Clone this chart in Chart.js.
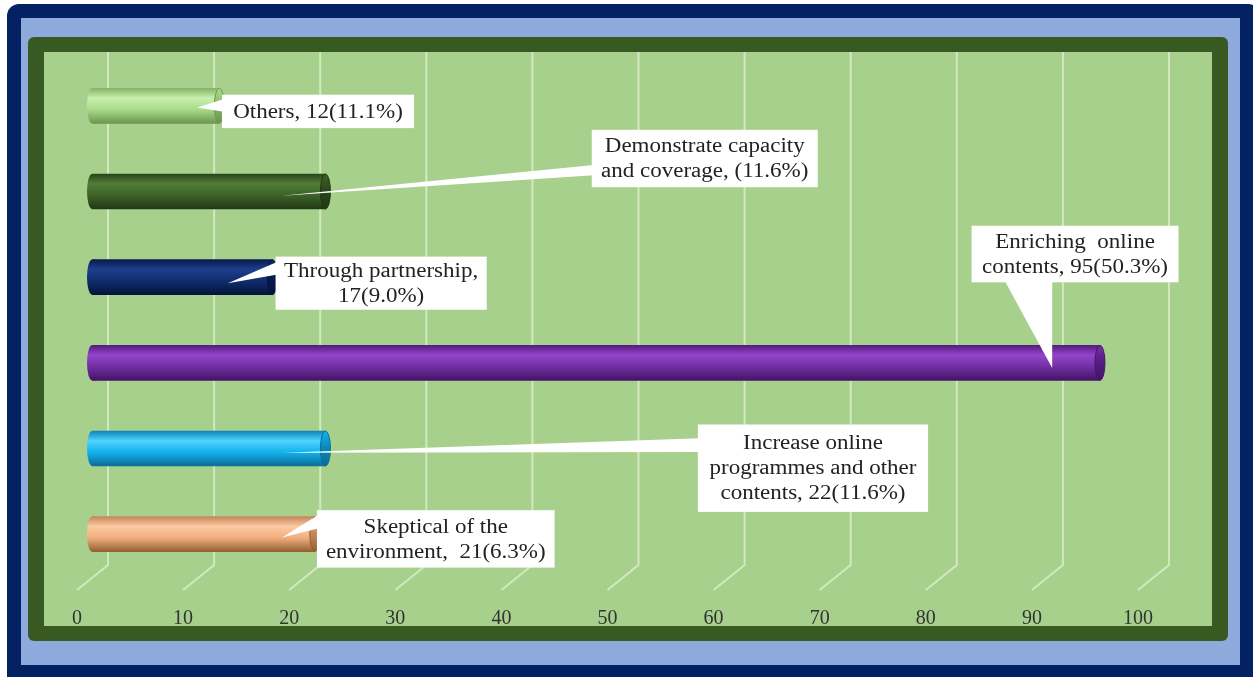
<!DOCTYPE html>
<html>
<head>
<meta charset="utf-8">
<script src="https://cdn.jsdelivr.net/npm/chart.js@4.4.0/dist/chart.umd.min.js"></script>
<style>
  html, body { margin: 0; padding: 0; background: #ffffff; }
  canvas { display: block; }
</style>
</head>
<body>
<canvas id="myChart" width="1253" height="677"></canvas>
<script>
// data, top bar first
const categories = ['Others', 'Demonstrate capacity and coverage', 'Through partnership',
  'Enriching online contents', 'Increase online programmes and other contents', 'Skeptical of the environment'];
const counts = [12, 22, 17, 95, 22, 21];
const percents = ['11.1%', '11.6%', '9.0%', '50.3%', '11.6%', '6.3%'];
const labelLines = [
  ['Others, 12(11.1%)'],
  ['Demonstrate capacity', 'and coverage, (11.6%)'],
  ['Through partnership,', '17(9.0%)'],
  ['Enriching  online', 'contents, 95(50.3%)'],
  ['Increase online', 'programmes and other', 'contents, 22(11.6%)'],
  ['Skeptical of the', 'environment,  21(6.3%)']
];
const xMin = 0, xMax = 100, xStep = 10;

// cylinder shading: edge, highlight, body, shadow
const shades = [
  ['#86b567', '#c8f0ad', '#a9dc8a', '#6b964f'],
  ['#29451a', '#527d38', '#3e6329', '#223914'],
  ['#081c4c', '#1d3f8c', '#0f2d6e', '#05143a'],
  ['#561c80', '#9444cc', '#7330a4', '#45136a'],
  ['#0b86b8', '#4fd3ff', '#13b2ec', '#0a6d98'],
  ['#c4875a', '#fccaa2', '#f2ae7e', '#946033']
];

// callout layout: box edges in axis units (x = value, y = offset from own row in rows),
// pointer base on box side, pointer tip in axis units
const callouts = [
  { x1: 12.25, x2: 30.35, y1: -0.13, y2: 0.26, side: 'left', b1: -0.08, b2: 0.07, tipX: 9.9, tipY: 0.02 },
  { x1: 47.1, x2: 68.4, y1: -0.72, y2: -0.05, side: 'left', b1: -0.31, b2: -0.19, tipX: 17.9, tipY: 0.05 },
  { x1: 17.3, x2: 37.2, y1: -0.24, y2: 0.38, side: 'left', b1: -0.18, b2: -0.03, tipX: 12.8, tipY: 0.07 },
  { x1: 82.9, x2: 102.4, y1: -1.6, y2: -0.94, side: 'bottom', b1: 86.0, b2: 90.5, tipX: 90.5, tipY: 0.06 },
  { x1: 57.1, x2: 78.8, y1: -0.28, y2: 0.74, side: 'left', b1: -0.12, b2: 0.04, tipX: 17.9, tipY: 0.05 },
  { x1: 21.2, x2: 43.6, y1: -0.28, y2: 0.39, side: 'left', b1: -0.23, b2: -0.07, tipX: 17.9, tipY: 0.04 }
];

const BAR_H = 35;

function cylinder(ctx, top, bottom, s) {
  const g = ctx.createLinearGradient(0, top, 0, bottom);
  g.addColorStop(0, s[0]);
  g.addColorStop(0.28, s[1]);
  g.addColorStop(0.6, s[2]);
  g.addColorStop(1, s[3]);
  return g;
}

function roundRect(ctx, x, y, w, h, r) {
  ctx.beginPath();
  ctx.moveTo(x + r, y);
  ctx.arcTo(x + w, y, x + w, y + h, r);
  ctx.arcTo(x + w, y + h, x, y + h, r);
  ctx.arcTo(x, y + h, x, y, r);
  ctx.arcTo(x, y, x + w, y, r);
  ctx.closePath();
}

const framePlugin = {
  id: 'frame',
  beforeDraw(chart) {
    const ctx = chart.ctx;
    ctx.save();
    ctx.fillStyle = '#ffffff';
    ctx.fillRect(0, 0, chart.width, chart.height);
    ctx.fillStyle = '#032163';
    roundRect(ctx, 7, 4, 1253, 690, 12); ctx.fill();
    ctx.fillStyle = '#8eaadc';
    ctx.fillRect(21, 18, 1219, 647);
    ctx.fillStyle = '#385a22';
    roundRect(ctx, 28, 37, 1200, 604, 6); ctx.fill();
    ctx.fillStyle = '#a8d08d';
    ctx.fillRect(44, 52, 1168, 574);
    ctx.restore();
  }
};

// back-wall gridlines with the slanted floor part
const gridPlugin = {
  id: 'grid3d',
  beforeDatasetsDraw(chart) {
    const ctx = chart.ctx, xs = chart.scales.x;
    const off = chart.options.scales.x.ticks.labelOffset;
    ctx.save();
    ctx.strokeStyle = '#d2e8c1';
    ctx.lineWidth = 2;
    for (let v = xMin; v <= xMax; v += xStep) {
      const front = xs.getPixelForValue(v) + off;
      const back = front + 31;
      ctx.beginPath();
      ctx.moveTo(back, 52);
      ctx.lineTo(back, 565);
      ctx.lineTo(front, 590);
      ctx.stroke();
    }
    ctx.restore();
  }
};

// rounded back end and elliptic front face of each cylinder
const capPlugin = {
  id: 'caps',
  afterDatasetsDraw(chart) {
    const ctx = chart.ctx, base = chart.scales.x.getPixelForValue(0);
    chart.getDatasetMeta(0).data.forEach((bar, i) => {
      const p = bar.getProps(['x', 'y', 'height'], true);
      const ry = p.height / 2, rx = 5;
      const s = shades[i];
      ctx.save();
      ctx.fillStyle = cylinder(ctx, p.y - ry, p.y + ry, s);
      ctx.beginPath();
      ctx.ellipse(base, p.y, rx, ry, 0, Math.PI / 2, Math.PI * 1.5);
      ctx.lineTo(base + rx, p.y - ry);
      ctx.lineTo(base + rx, p.y + ry);
      ctx.closePath();
      ctx.fill();

      const g = ctx.createLinearGradient(0, p.y - ry, 0, p.y + ry);
      g.addColorStop(0, s[2]);
      g.addColorStop(0.5, s[0]);
      g.addColorStop(1, s[3]);
      ctx.fillStyle = g;
      ctx.strokeStyle = s[3];
      ctx.lineWidth = 1;
      ctx.beginPath();
      ctx.ellipse(p.x, p.y, rx, ry, 0, 0, Math.PI * 2);
      ctx.fill();
      ctx.stroke();
      ctx.restore();
    });
  }
};

const calloutPlugin = {
  id: 'callouts',
  afterDatasetsDraw(chart) {
    const ctx = chart.ctx, xs = chart.scales.x, ys = chart.scales.y;
    const row = ys.getPixelForValue(1) - ys.getPixelForValue(0);
    callouts.forEach((c, i) => {
      const yc = ys.getPixelForValue(i);
      const left = xs.getPixelForValue(c.x1), right = xs.getPixelForValue(c.x2);
      const top = yc + c.y1 * row, bottom = yc + c.y2 * row;
      const tx = xs.getPixelForValue(c.tipX), ty = yc + c.tipY * row;
      ctx.save();
      ctx.fillStyle = '#ffffff';
      ctx.beginPath();
      if (c.side === 'left') {
        ctx.moveTo(left + 2, yc + c.b1 * row);
        ctx.lineTo(tx, ty);
        ctx.lineTo(left + 2, yc + c.b2 * row);
      } else {
        ctx.moveTo(xs.getPixelForValue(c.b1), bottom - 2);
        ctx.lineTo(tx, ty);
        ctx.lineTo(xs.getPixelForValue(c.b2), bottom - 2);
      }
      ctx.closePath();
      ctx.fill();
      ctx.fillRect(left, top, right - left, bottom - top);

      const lines = labelLines[i];
      const lh = 25, cx = (left + right) / 2, cy = (top + bottom) / 2;
      ctx.fillStyle = '#222222';
      ctx.font = '20px "Liberation Serif", "Times New Roman", serif';
      ctx.textAlign = 'center';
      ctx.textBaseline = 'middle';
      lines.forEach((t, k) => {
        ctx.save();
        ctx.translate(cx, cy + (k - (lines.length - 1) / 2) * lh);
        ctx.scale(1.15, 1);
        ctx.fillText(t, 0, 1);
        ctx.restore();
      });
      ctx.restore();
    });
  }
};

new Chart(document.getElementById('myChart'), {
  type: 'bar',
  data: {
    labels: categories,
    datasets: [{
      label: 'Responses',
      data: counts,
      barThickness: BAR_H,
      borderRadius: 0,
      backgroundColor: (c) => {
        const s = shades[c.dataIndex] || shades[0];
        const ys = c.chart.scales.y;
        if (!ys || c.dataIndex === undefined) return s[2];
        const yc = ys.getPixelForValue(c.dataIndex);
        if (!isFinite(yc)) return s[2];
        return cylinder(c.chart.ctx, yc - BAR_H / 2, yc + BAR_H / 2, s);
      }
    }]
  },
  options: {
    indexAxis: 'y',
    responsive: false,
    animation: false,
    devicePixelRatio: 1,
    layout: { padding: { left: 92, right: 100, top: 63, bottom: 16 } },
    plugins: {
      legend: { display: false },
      tooltip: { enabled: false }
    },
    scales: {
      x: {
        min: xMin,
        max: xMax,
        grid: { display: false, drawTicks: false },
        border: { display: false },
        ticks: {
          stepSize: xStep,
          labelOffset: -15,
          padding: 30,
          color: '#333333',
          font: { family: '"Liberation Serif"', size: 20 }
        }
      },
      y: {
        display: false
      }
    }
  },
  plugins: [framePlugin, gridPlugin, capPlugin, calloutPlugin]
});
</script>
</body>
</html>
